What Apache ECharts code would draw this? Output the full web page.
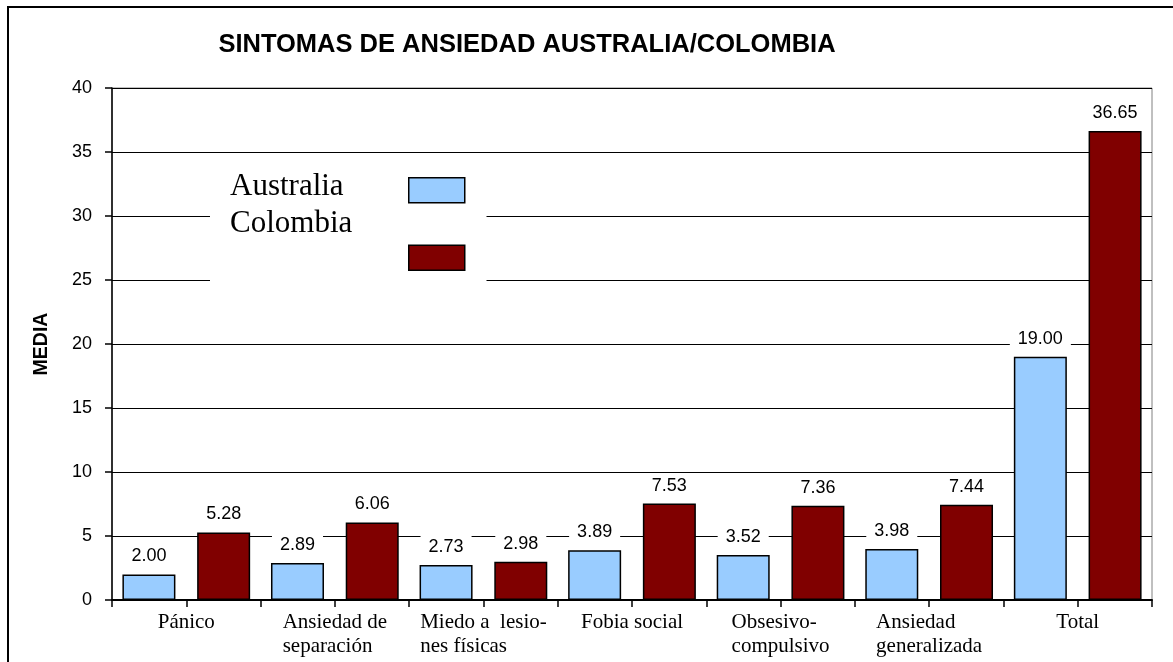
<!DOCTYPE html>
<html>
<head>
<meta charset="utf-8">
<script src="https://cdn.jsdelivr.net/npm/echarts@6/dist/echarts.min.js"></script>
<style>
html,body{margin:0;padding:0;background:#fff;}
#chart{width:1173px;height:662px;}
</style>
</head>
<body>
<div id="chart"></div>
<script>
const categories = ['Pánico', 'Ansiedad de\nseparación', 'Miedo a  lesio-\nnes físicas', 'Fobia social', 'Obsesivo-\ncompulsivo', 'Ansiedad\ngeneralizada', 'Total'];
const seriesNames = ['Australia', 'Colombia'];
const australia = [2.00, 2.89, 2.73, 3.89, 3.52, 3.98, 19.00];
const colombia = [5.28, 6.06, 2.98, 7.53, 7.36, 7.44, 36.65];
const yMin = 0, yMax = 40, yStep = 5;
const titleText = 'SINTOMAS DE ANSIEDAD AUSTRALIA/COLOMBIA';
const yName = 'MEDIA';

const SANS = '"Liberation Sans", Arial, sans-serif';
const SERIF = '"Liberation Serif", "Times New Roman", serif';

// half-category tick positions (ticks at boundaries and centres)
const halfTicks = [];
categories.forEach(() => { halfTicks.push(''); halfTicks.push(''); });

const chart = echarts.init(document.getElementById('chart'), null, {renderer: 'canvas'});

const labelCfg = {
  show: true,
  position: 'top',
  distance: 7,
  formatter: p => p.value.toFixed(2),
  color: '#000',
  fontFamily: SANS,
  fontSize: 18,
  backgroundColor: '#fff',
  padding: [3, 8, 2, 8]
};

const option = {
  backgroundColor: '#fff',
  animation: false,
  title: {
    text: titleText,
    left: 522,
    top: 27,
    textAlign: 'center',
    textStyle: {fontFamily: SANS, fontWeight: 'bold', fontSize: 25.5, color: '#000'}
  },
  legend: {
    data: seriesNames,
    orient: 'vertical',
    left: 210,
    top: 155,
    padding: [22, 21, 17, 198],
    itemWidth: 56,
    itemHeight: 25,
    itemGap: 41,
    icon: 'rect',
    backgroundColor: '#fff',
    formatter: () => '',
    selectedMode: false,
    itemStyle: {borderColor: '#000', borderWidth: 1.5}
  },
  grid: {
    left: 112, right: 21, top: 88, bottom: 62,
    show: true, borderColor: '#808080', borderWidth: 1, backgroundColor: 'transparent'
  },
  xAxis: [
    {
      type: 'category',
      data: categories,
      axisLine: {show: true, lineStyle: {color: '#000', width: 2}},
      axisTick: {show: false},
      axisLabel: {
        interval: 0,
        margin: 10,
        color: '#000',
        fontFamily: SERIF,
        fontSize: 21,
        lineHeight: 24,
        formatter: v => v.split('\n').map(s => '{l|' + s + '}').join('\n'),
        rich: {l: {align: 'left', fontFamily: SERIF, fontSize: 21, lineHeight: 24, color: '#000'}}
      },
      splitLine: {show: false}
    },
    {
      type: 'category',
      data: halfTicks,
      position: 'bottom',
      axisLine: {show: false},
      axisLabel: {show: false, interval: 0},
      axisTick: {show: true, interval: 0, length: 7, lineStyle: {color: '#000', width: 1.5}},
      splitLine: {show: false}
    }
  ],
  yAxis: {
    type: 'value',
    min: yMin,
    max: yMax,
    interval: yStep,
    name: yName,
    nameLocation: 'middle',
    nameRotate: 90,
    nameGap: 60,
    nameTextStyle: {fontFamily: SANS, fontWeight: 'bold', fontSize: 19.5, color: '#000'},
    axisLine: {show: true, lineStyle: {color: '#000', width: 1.5}},
    axisTick: {show: true, length: 7, lineStyle: {color: '#000', width: 1.5}},
    axisLabel: {color: '#000', fontFamily: SANS, fontSize: 18, margin: 20},
    splitLine: {show: true, lineStyle: {color: '#000', width: 1}}
  },
  series: [
    {
      name: seriesNames[0],
      type: 'bar',
      xAxisIndex: 0,
      data: australia,
      barWidth: 53,
      barGap: '41%',
      itemStyle: {color: '#99CCFF', borderColor: '#000', borderWidth: 1.5},
      label: labelCfg
    },
    {
      name: seriesNames[1],
      type: 'bar',
      xAxisIndex: 0,
      data: colombia,
      barWidth: 53,
      barGap: '41%',
      itemStyle: {color: '#800000', borderColor: '#000', borderWidth: 1.5},
      label: labelCfg
    }
  ],
  graphic: [
    {
      type: 'rect', z: 100, silent: true,
      shape: {x: 8, y: 7, width: 1200, height: 700},
      style: {fill: 'none', stroke: '#000', lineWidth: 2}
    },
    {
      type: 'text', z: 100, silent: true,
      style: {text: seriesNames[0], x: 230, y: 187, fill: '#000', font: '31px ' + SERIF, textVerticalAlign: 'middle'}
    },
    {
      type: 'text', z: 100, silent: true,
      style: {text: seriesNames[1], x: 230, y: 224, fill: '#000', font: '31px ' + SERIF, textVerticalAlign: 'middle'}
    }
  ]
};

chart.setOption(option);
</script>
</body>
</html>
